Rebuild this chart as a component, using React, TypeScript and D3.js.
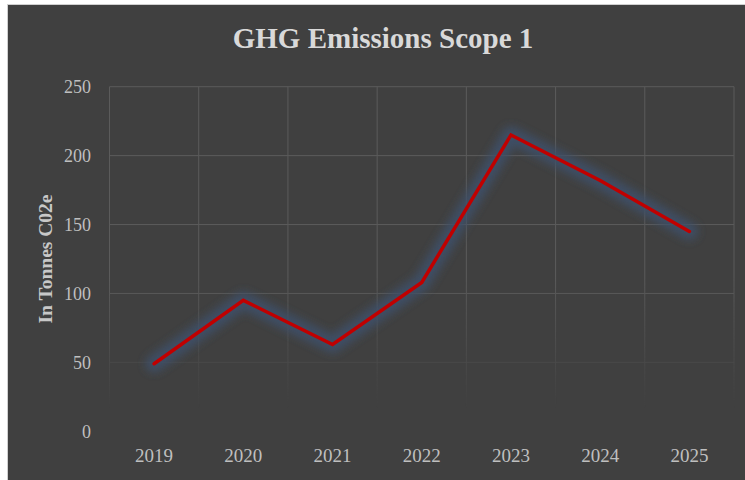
import React from "react";
import * as d3 from "d3";

const title = "GHG Emissions Scope 1";
const yAxisTitle = "In Tonnes C02e";
const years = ["2019", "2020", "2021", "2022", "2023", "2024", "2025"];
const emissions = [49, 95, 63, 108, 215, 182, 145];
const yTicks = [0, 50, 100, 150, 200, 250];

export default function App() {
  const W = 745;
  const H = 480;
  const left = 109.5;
  const right = 734;
  const top = 86.7;
  const bottom = 431.3;

  const x = d3.scaleBand<string>().domain(years).range([left, right]).padding(0);
  const y = d3.scaleLinear().domain([0, 250]).range([bottom, top]);
  const line = d3
    .line<number>()
    .x((_, i) => (x(years[i]) as number) + x.bandwidth() / 2)
    .y((d) => y(d));
  const path = line(emissions) || "";

  const gridColor = "#5b5b5b";
  const textColor = "#bfbfbf";

  return (
    <svg
      width={W}
      height={H}
      style={{ position: "absolute", left: 0, top: 0, display: "block" }}
    >
      <defs>
        <linearGradient id="fadeGrad" x1="0" y1="0" x2="0" y2="1" gradientUnits="objectBoundingBox">
          <stop offset="0" stopColor="#fff" stopOpacity="1" />
          <stop offset="0.55" stopColor="#fff" stopOpacity="1" />
          <stop offset="0.92" stopColor="#fff" stopOpacity="0" />
          <stop offset="1" stopColor="#fff" stopOpacity="0" />
        </linearGradient>
        <mask id="gridMask" maskUnits="userSpaceOnUse" x="0" y="0" width={W} height={H}>
          <rect x={left - 5} y={top - 5} width={right - left + 10} height={bottom - top + 10} fill="url(#fadeGrad)" />
        </mask>
        <filter id="glow" x="-20%" y="-20%" width="140%" height="140%">
          <feGaussianBlur stdDeviation="4.5" />
        </filter>
      </defs>
      <rect x={0} y={0} width={W} height={H} fill="#ffffff" />
      <rect x={7} y={4} width={W} height={H} fill="#d0d0d0" />
      <rect x={8} y={5} width={W} height={H} fill="#404040" />

      <text
        x={383}
        y={48}
        textAnchor="middle"
        fontFamily="'Liberation Serif', serif"
        fontWeight="bold"
        fontSize={29}
        fill="#d9d9d9"
      >
        {title}
      </text>

      <g mask="url(#gridMask)">
        {yTicks
          .filter((t) => t > 0)
          .map((t) => (
            <line key={"h" + t} x1={left} x2={right} y1={y(t)} y2={y(t)} stroke={gridColor} strokeWidth={1} />
          ))}
        {years.map((yr) => (
          <line
            key={"v" + yr}
            x1={x(yr) as number}
            x2={x(yr) as number}
            y1={top}
            y2={bottom}
            stroke={gridColor}
            strokeWidth={1}
          />
        ))}
        <line x1={right} x2={right} y1={top} y2={bottom} stroke={gridColor} strokeWidth={1} />
      </g>

      {yTicks.map((t) => (
        <text
          key={"yt" + t}
          x={91}
          y={y(t)}
          dy="0.35em"
          textAnchor="end"
          fontFamily="'Liberation Serif', serif"
          fontSize={18}
          fill={textColor}
        >
          {t}
        </text>
      ))}

      {years.map((yr) => (
        <text
          key={"xt" + yr}
          x={(x(yr) as number) + x.bandwidth() / 2}
          y={461.5}
          textAnchor="middle"
          fontFamily="'Liberation Serif', serif"
          fontSize={19}
          fill={textColor}
        >
          {yr}
        </text>
      ))}

      <text
        transform={`translate(52, ${(top + bottom) / 2}) rotate(-90)`}
        textAnchor="middle"
        fontFamily="'Liberation Serif', serif"
        fontWeight="bold"
        fontSize={19.5}
        fill="#c8c8c8"
      >
        {yAxisTitle}
      </text>

      <path
        d={path}
        fill="none"
        stroke="#3f5068"
        strokeOpacity={0.9}
        strokeWidth={17}
        strokeLinecap="round"
        strokeLinejoin="round"
        filter="url(#glow)"
      />
      <path
        d={path}
        fill="none"
        stroke="#c00000"
        strokeWidth={3.5}
        strokeLinecap="round"
        strokeLinejoin="miter"
      />
    </svg>
  );
}
